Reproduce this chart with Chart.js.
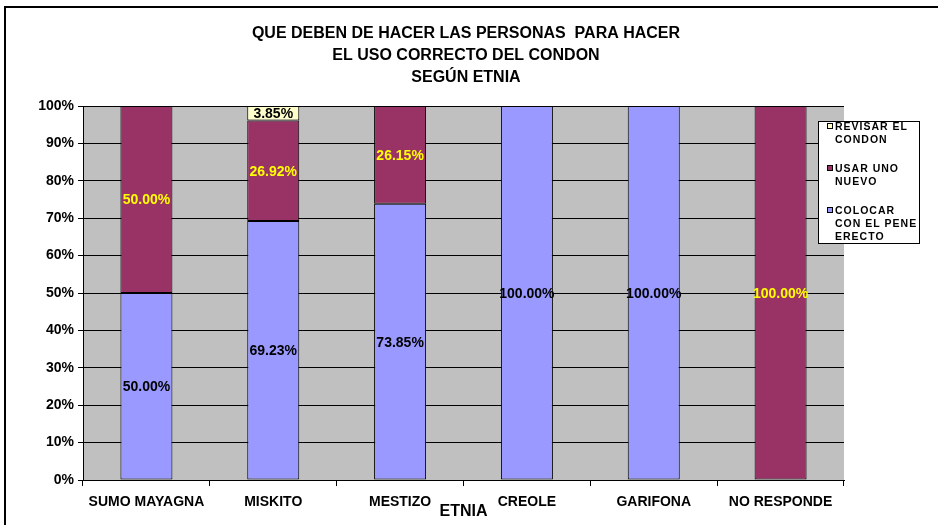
<!DOCTYPE html>
<html>
<head>
<meta charset="utf-8">
<script src="https://cdn.jsdelivr.net/npm/chart.js@4.4.1/dist/chart.umd.min.js"></script>
<style>
  html, body { margin: 0; padding: 0; background: #fff; }
  #wrap { position: relative; width: 938px; height: 525px; }
</style>
</head>
<body>
<div id="wrap"><canvas id="chart" width="938" height="525"></canvas></div>
<script>
/* ===== data ===== */
const categories = ["SUMO MAYAGNA", "MISKITO", "MESTIZO", "CREOLE", "GARIFONA", "NO RESPONDE"];
const colocar = [50.00, 69.23, 73.85, 100.00, 100.00, 0];
const usarNuevo = [50.00, 26.92, 26.15, 0, 0, 100.00];
const revisar = [0, 3.85, 0, 0, 0, 0];
const yTicks = [0, 10, 20, 30, 40, 50, 60, 70, 80, 90, 100];
const titleLines = ["QUE DEBEN DE HACER LAS PERSONAS  PARA HACER", "EL USO CORRECTO DEL CONDON", "SEGÚN ETNIA"];
const xTitle = "ETNIA";

/* legend text, top to bottom, already wrapped like the original */
const legendItems = [
    { lines: ["REVISAR EL", "CONDON"], color: "#ffffcc" },
    { lines: ["USAR UNO", "NUEVO"], color: "#993366" },
    { lines: ["COLOCAR", "CON EL PENE", "ERECTO"], color: "#9999ff" }
];

const FONT = "Arial, 'Liberation Sans', sans-serif";

/* ===== extra drawing: frame, title, value labels, legend ===== */
const decor = {
    id: "decor",
    beforeDraw(chart) {
        const ctx = chart.ctx;
        const a = chart.chartArea;
        ctx.save();
        ctx.fillStyle = "#c0c0c0";
        ctx.fillRect(a.left, a.top, a.right - a.left, a.bottom - a.top);
        ctx.restore();
    },
    afterDatasetsDraw(chart) {
        const ctx = chart.ctx;
        ctx.save();
        ctx.font = "bold 14px " + FONT;
        ctx.textAlign = "center";
        ctx.textBaseline = "middle";
        chart.data.datasets.forEach((ds, i) => {
            const meta = chart.getDatasetMeta(i);
            meta.data.forEach((bar, j) => {
                const v = ds.data[j];
                if (!v) return;
                const y = (bar.y + bar.base) / 2;
                ctx.fillStyle = ds.labelColor;
                ctx.fillText(v.toFixed(2) + "%", bar.x, y + 1);
            });
        });
        ctx.restore();
    },
    afterDraw(chart) {
        const ctx = chart.ctx;
        const a = chart.chartArea;
        ctx.save();

        // frame (top and left edges only are visible)
        ctx.strokeStyle = "#000";
        ctx.lineWidth = 2;
        ctx.beginPath();
        ctx.moveTo(5, 525);
        ctx.lineTo(5, 7);
        ctx.lineTo(938, 7);
        ctx.stroke();

        // title
        ctx.fillStyle = "#000";
        ctx.font = "bold 16px " + FONT;
        ctx.textAlign = "center";
        ctx.textBaseline = "middle";
        titleLines.forEach((t, i) => ctx.fillText(t, 466, 34 + i * 22));

        // axis title
        ctx.font = "bold 16px " + FONT;
        ctx.fillText(xTitle, (a.left + a.right) / 2, 512);

        // legend box
        const lx = 818, ly = 121, lw = 101, lh = 122;
        ctx.fillStyle = "#fff";
        ctx.fillRect(lx, ly, lw, lh);
        ctx.strokeStyle = "#000";
        ctx.lineWidth = 1;
        ctx.strokeRect(lx + 0.5, ly + 0.5, lw, lh);

        ctx.font = "bold 10.5px " + FONT;
        ctx.textAlign = "left";
        ctx.letterSpacing = "1px";
        let y = 127;
        legendItems.forEach(item => {
            ctx.fillStyle = item.color;
            ctx.fillRect(827.5, y - 3.5, 5, 5);
            ctx.strokeStyle = "#000";
            ctx.strokeRect(827.5, y - 3.5, 5, 5);
            ctx.fillStyle = "#000";
            item.lines.forEach((ln, k) => ctx.fillText(ln, 835, y + k * 13));
            y += item.lines.length * 13 + 16;
        });
        ctx.restore();
    }
};

/* ===== chart ===== */
new Chart(document.getElementById("chart"), {
    type: "bar",
    data: {
        labels: categories,
        datasets: [
            { label: "COLOCAR CON EL PENE ERECTO", data: colocar, backgroundColor: "#9999ff", labelColor: "#000" },
            { label: "USAR UNO NUEVO", data: usarNuevo, backgroundColor: "#993366", labelColor: "#ffff00" },
            { label: "REVISAR EL CONDON", data: revisar, backgroundColor: "#ffffcc", labelColor: "#000" }
        ].map(d => Object.assign(d, {
            borderColor: "#000",
            borderWidth: 1,
            borderSkipped: false,
            barPercentage: 0.41,
            categoryPercentage: 1
        }))
    },
    options: {
        responsive: false,
        animation: false,
        layout: { padding: { top: 106, right: 94, bottom: 0, left: 0 } },
        plugins: {
            legend: { display: false },
            title: { display: false },
            tooltip: { enabled: false }
        },
        scales: {
            x: {
                stacked: true,
                grid: { offset: true, drawOnChartArea: false, color: "#000", tickLength: 6 },
                border: { color: "#000", width: 1 },
                ticks: { color: "#000", font: { family: FONT, size: 14, weight: "bold" }, padding: 8, maxRotation: 0 },
                afterFit(s) { s.height = 45; }
            },
            y: {
                stacked: true,
                min: 0,
                max: 100,
                afterBuildTicks(s) { s.ticks = yTicks.map(v => ({ value: v })); },
                grid: { color: "#000", tickLength: 5 },
                border: { color: "#000", width: 1 },
                ticks: {
                    color: "#000",
                    font: { family: FONT, size: 14, weight: "bold" },
                    padding: 4,
                    callback: v => v + "%"
                },
                afterFit(s) { s.width = 83; }
            }
        }
    },
    plugins: [decor]
});
</script>
</body>
</html>
